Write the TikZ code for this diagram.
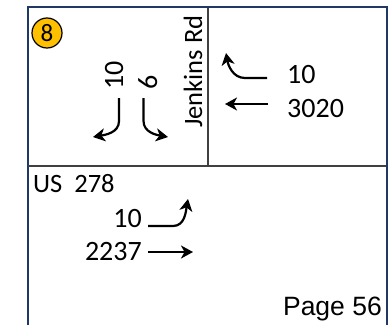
\documentclass[tikz,border=0pt]{standalone}
\usepackage{fontspec}
\setmainfont{Carlito}
\newfontfamily\pagefont{Liberation Sans}
\usetikzlibrary{arrows.meta}
\definecolor{framenavy}{HTML}{203864}
\definecolor{lanegray}{HTML}{404040}
\definecolor{badge}{HTML}{FFC000}

\begin{document}
\begin{tikzpicture}[x=1pt, y=-1pt,
        every node/.style={inner sep=0pt, font=\fontsize{28}{32}\selectfont},
        mov/.style={line width=2.2pt, -{Stealth[length=12pt, width=13pt, inset=3.5pt]}},
        vlabel/.style={rotate=90, anchor=base west}]
            \useasboundingbox (0,0) rectangle (390,324);
            \draw[framenavy, line width=2pt] (27.5,330) -- (27.5,7) -- (387,7) -- (387,330);
            \draw[lanegray, line width=1.5pt] (28,166) -- (386,166);
            \draw[lanegray, line width=1.5pt] (208,7.5) -- (208,166);

            \node[circle, draw, line width=1.2pt, fill=badge, minimum size=30pt,
                font=\fontsize{25}{30}\selectfont] (num) at (47,33) {8};

            % Jenkins Rd, southbound
            \node[vlabel, font=\fontsize{26.5}{30}\selectfont] (jenkins) at (202,128) {Jenkins Rd};
            \node[vlabel] (sbL) at (123,90) {10};
            \node[vlabel] (sbR) at (157,90) {6};
            \coordinate (sbLs) at (119,98);
            \coordinate (sbLe) at (93,137);
            \coordinate (sbRs) at (143.5,98);
            \coordinate (sbRe) at (168,137);
            \draw[mov] (sbLs) -- (119,121) to[out=-90,in=10] (sbLe);
            \draw[mov] (sbRs) -- (143.5,121) to[out=-90,in=170] (sbRe);

            % Jenkins Rd, westbound
            \node[anchor=base west] (wbL) at (287,83) {10};
            \node[anchor=base west] (wbT) at (287,117) {3020};
            \coordinate (wbLs) at (267,78);
            \coordinate (wbLe) at (226,53);
            \coordinate (wbTs) at (268,104);
            \coordinate (wbTe) at (225,104);
            \draw[mov] (wbLs) -- (245,78) to[out=180,in=-80] (wbLe);
            \draw[mov] (wbTs) -- (wbTe);

            % US 278, eastbound
            \node[anchor=base west, font=\fontsize{26.5}{30}\selectfont] (us) at (33,192) {US\ \ 278};
            \node[anchor=base east] (ebL) at (142,227) {10};
            \node[anchor=base east] (ebT) at (142,260) {2237};
            \coordinate (ebLs) at (148,226);
            \coordinate (ebLe) at (188,199);
            \coordinate (ebTs) at (148,252);
            \coordinate (ebTe) at (193,252);
            \draw[mov] (ebLs) -- (173,226) to[out=0,in=-100] (ebLe);
            \draw[mov] (ebTs) -- (ebTe);

            \node[anchor=base east, font=\pagefont\fontsize{26.5}{30}\selectfont] (page) at (382,315) {Page 56};
        \end{tikzpicture}
\end{document}
